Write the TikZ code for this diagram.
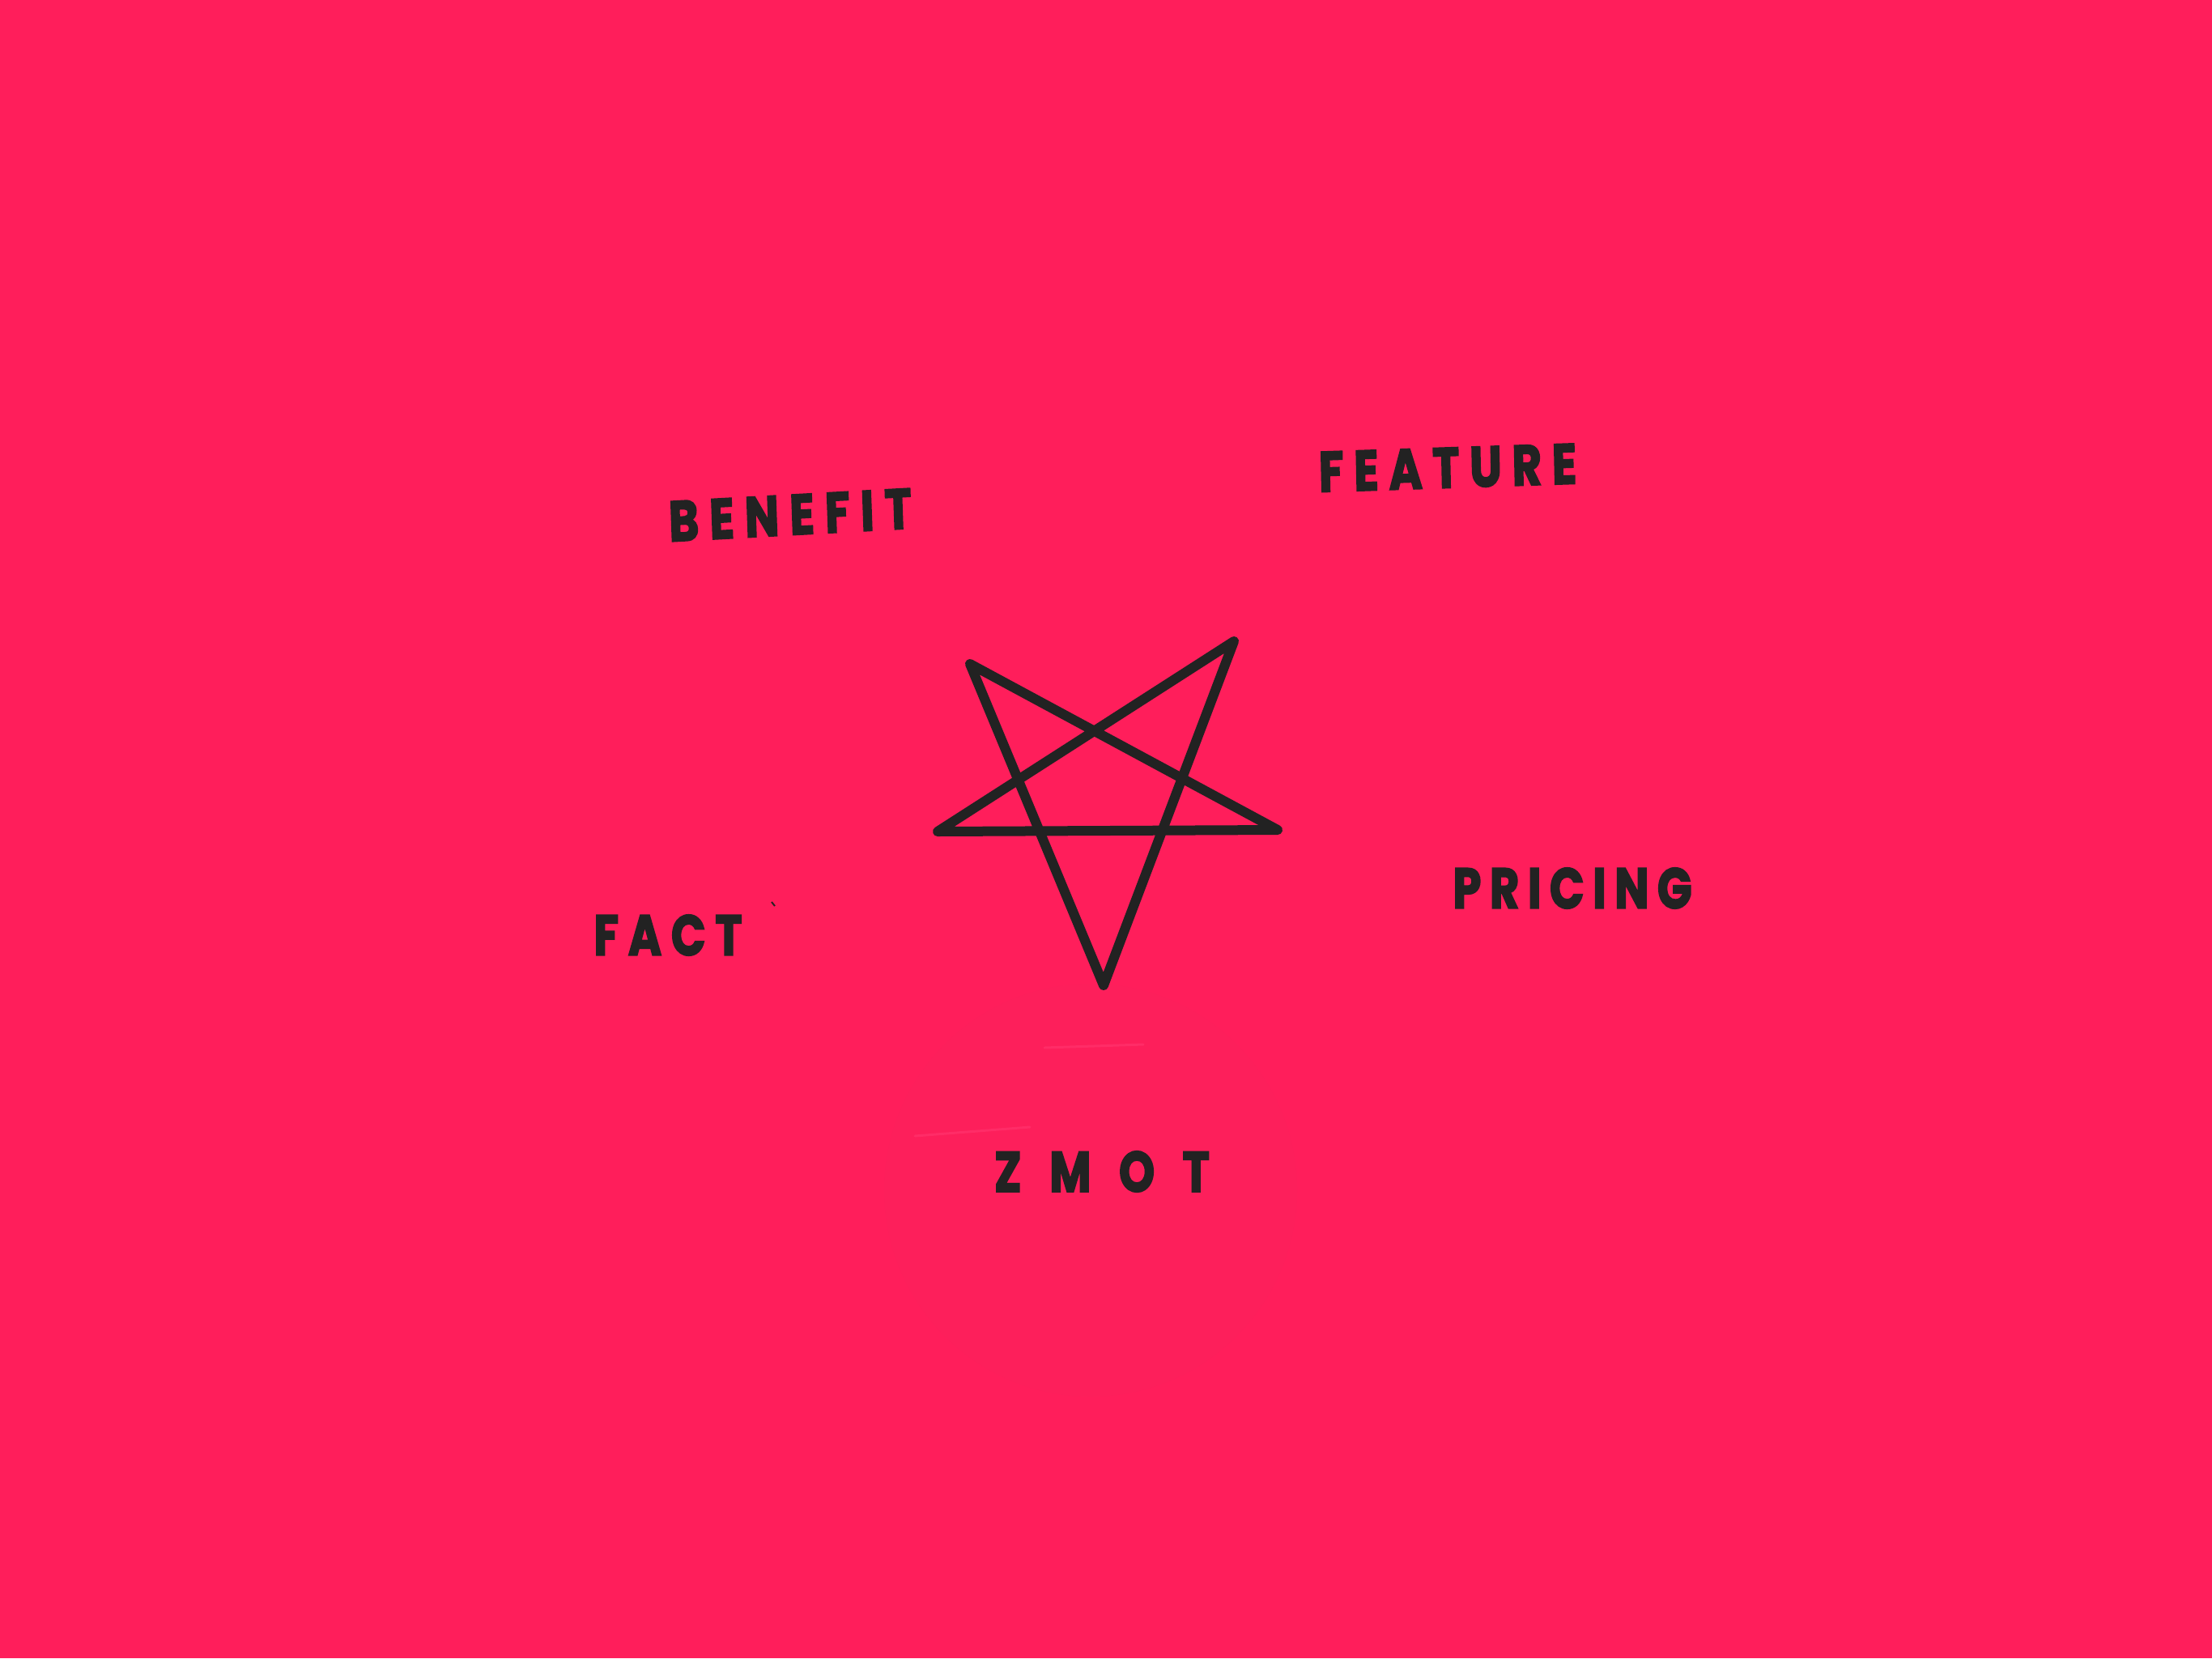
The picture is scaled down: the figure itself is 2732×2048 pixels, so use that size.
\documentclass[tikz,border=0pt]{standalone}
\usepackage{fontspec}
\newfontfamily\hand{Poppins}[FakeBold=3]
\definecolor{bgpink}{HTML}{FF1E5B}
\definecolor{ink}{HTML}{222222}
\definecolor{circpink}{HTML}{FD1F5B}
\definecolor{glint}{HTML}{FF2C67}
\tikzset{
  label/.style={text=ink, font=\hand\bfseries\fontsize{70}{76}\selectfont, inner sep=0pt, anchor=center, xscale=0.8},
  starline/.style={draw=ink, line width=12pt, line join=round, line cap=round}
}
\newcommand{\sw}[2]{\makebox[#1pt][s]{#2}}
\begin{document}
\begin{tikzpicture}[x=1pt,y=-1pt]
\fill[bgpink] (0,0) rectangle (2732,2048);
\useasboundingbox (0,0) rectangle (2732,2048);
% faint circle behind ZMOT
\fill[circpink] (1347,1470) circle (255);
\draw[glint, line width=3pt, line cap=round] (1290,1294) -- (1412,1290);
\draw[glint, line width=3pt, line cap=round] (1130,1403) -- (1272,1392);
% star
\coordinate (tl) at (1198,820);
\coordinate (tr) at (1524,792);
\coordinate (r) at (1578,1025);
\coordinate (l) at (1158,1027);
\coordinate (b) at (1363,1217);
\draw[starline] (tl) -- (r) -- (l) -- (tr) -- (b) -- cycle;
% stray speck
\coordinate (sp1) at (953,1114);
\coordinate (sp2) at (957,1119);
\draw[ink, line width=2pt] (sp1) -- (sp2);
% labels
\node[label, rotate=2.5] (benefit) at (976,636) {\sw{375}{B\hfil E\hfil N\hfil E\hfil F\hfil I\hfil T}};
\node[label, rotate=1.5] (feature) at (1788,578) {\sw{398}{F\hfil E\hfil A\hfil T\hfil U\hfil R\hfil E}};
\node[label] (fact) at (825,1155) {\sw{229}{F\hfil A\hfil C\hfil T}};
\node[label] (pricing) at (1942,1097) {\sw{369}{P\hfil R\hfil I\hfil C\hfil I\hfil N\hfil G}};
\node[label] (zmot) at (1361,1447) {\sw{332}{Z\hfil M\hfil O\hfil T}};
\end{tikzpicture}
\end{document}
